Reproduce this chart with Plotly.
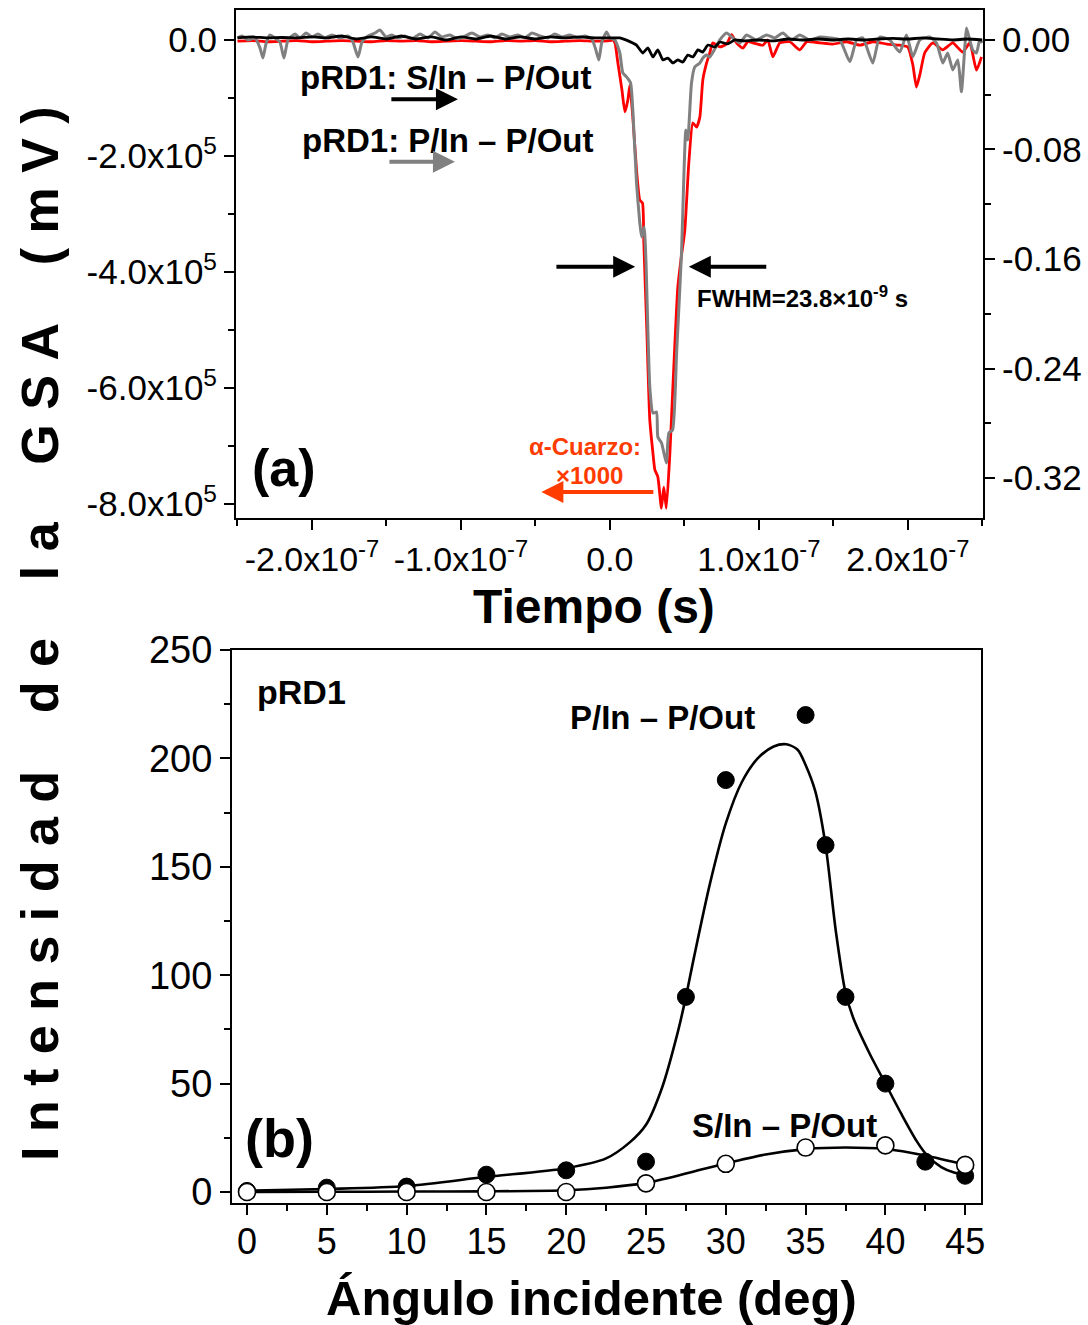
import plotly.graph_objects as go

# ---------------- panel (a): time traces ----------------
# alpha-quartz reference (x1000), left axis, mV
red_t_ns = [-250, -240, -230, -220, -210, -200, -190, -180, -170, -160, -150, -140, -130,
            -120, -110, -100, -90, -80, -70, -60, -50, -40, -30, -20, -10, 0,
            2.0, 3.4, 5.4, 8.1, 10.1, 12.1, 13.4, 15.4, 17.9, 20.1,
            21.9, 22.8, 24.8, 26.8, 28.9, 30.2, 32.2, 34.6, 36.2, 37.9,
            40.3, 42.3, 45.6, 47.7, 50.3, 53.0, 55.7, 58.2, 60.4, 62.4,
            64.9, 67.1, 69.1, 73.8, 78.3, 81.7, 85.0, 89.3, 92.6, 96.0,
            102.7, 106.0, 109.4, 114.1, 120.8, 127.5, 132.2, 140.9, 149.7, 159.1,
            167.8, 176.5, 185.9, 194.6, 200.0, 203.4, 205.8, 208.1, 211.4, 216.8,
            223.5, 230.2, 236.9, 241.6, 246.1, 249.5]
red_mV = [-0.02e5, -0.01e5, -0.03e5, -0.02e5, -0.01e5, -0.03e5, -0.02e5, -0.01e5, -0.02e5,
          -0.03e5, -0.01e5, -0.02e5, -0.01e5, -0.03e5, -0.02e5, -0.01e5, -0.02e5, -0.03e5,
          -0.01e5, -0.02e5, -0.01e5, -0.03e5, -0.02e5, -0.01e5, -0.02e5, -0.01e5,
          0.0, -0.05e5, -0.40e5, -0.86e5, -1.24e5, -1.03e5, -0.78e5, -1.33e5, -2.24e5, -2.76e5,
          -2.81e5, -3.50e5, -5.00e5, -6.55e5, -7.12e5, -7.41e5, -7.53e5, -8.07e5, -7.71e5, -8.07e5,
          -7.12e5, -5.98e5, -4.26e5, -3.79e5, -3.28e5, -2.12e5, -1.43e5, -1.50e5, -1.33e5, -0.69e5,
          -0.40e5, -0.22e5, -0.05e5, -0.12e5, -0.07e5, 0.09e5, -0.05e5, -0.14e5, -0.03e5, -0.05e5,
          -0.09e5, 0.0, -0.29e5, -0.05e5, -0.03e5, -0.17e5, -0.03e5, -0.05e5, -0.07e5, -0.03e5,
          -0.09e5, -0.03e5, -0.07e5, -0.09e5, -0.12e5, -0.43e5, -0.81e5, -0.60e5, -0.22e5, -0.05e5,
          -0.17e5, -0.05e5, -0.21e5, -0.05e5, -0.52e5, -0.29e5]

# pRD1 P/In - P/Out, right axis
gray_t_ns = [-250, -247.0, -243.0, -238.3, -234.9, -232.9, -230.9, -228.2, -224.8, -221.5,
             -218.8, -216.1, -211.4, -208.1, -204.0, -200.0, -196.0, -191.3, -186.6, -181.2,
             -175.8, -172.5, -169.1, -166.4, -162.4, -157.7, -154.4, -150.3, -146.3, -142.3,
             -137.6, -132.9, -127.5, -122.1, -117.4, -112.8, -107.4, -102.0, -97.3, -92.6,
             -87.2, -81.9, -77.2, -72.5, -67.1, -61.7, -57.0, -52.3, -47.0, -41.6,
             -36.9, -32.2, -26.8, -21.5, -16.8, -12.1, -9.4, -7.4, -5.4, -2.2,
             0, 3.4, 6.7, 8.7, 11.2, 13.9, 15.4, 17.9, 20.1, 21.3,
             23.0, 24.2, 26.8, 28.9, 31.3, 32.2, 34.7, 37.9, 39.6, 42.1,
             44.8, 48.1, 49.7, 51.0, 52.3, 54.8, 57.0, 60.4, 62.4, 64.9,
             67.1, 73.8, 78.3, 82.6, 87.2, 91.7, 98.4, 105.2, 110.7, 116.1,
             121.9, 127.5, 134.2, 140.9, 147.7, 154.4, 161.1, 165.6, 169.8, 176.5,
             181.2, 187.9, 194.6, 199.1, 203.4, 208.1, 214.8, 219.3, 223.5, 226.8,
             230.2, 233.6, 236.0, 238.3, 239.4, 241.6, 243.6, 246.1, 248.3, 250.0]
gray_val = [0.0015, 0.0029, 0.0, 0.0015, -0.0058, -0.0132, -0.0029, 0.0037, 0.0015, -0.0015,
            -0.0132, 0.0, 0.0044, 0.0015, 0.0051, 0.0022, 0.0044, 0.0015, 0.0037, 0.0015,
            0.0029, -0.0015, -0.0124, -0.0015, 0.0029, 0.0051, 0.0073, 0.0022, 0.0037, 0.0015,
            0.0029, 0.0007, 0.0044, 0.0015, 0.0058, 0.0022, 0.0037, 0.0007, 0.0029, 0.0051,
            0.0022, 0.0037, 0.0015, 0.0044, 0.0022, 0.0037, 0.0015, 0.0051, 0.0029, 0.0015,
            0.0044, 0.0022, 0.0037, 0.0015, 0.0029, 0.0007, -0.0073, -0.0146, -0.0015, 0.0058,
            0.0015, 0.0, -0.0095, -0.0241, -0.0270, -0.0314, -0.0511, -0.1045, -0.1337, -0.1439,
            -0.1366, -0.1607, -0.2535, -0.2725, -0.2718, -0.2900, -0.2944, -0.3090, -0.2871, -0.2849,
            -0.2287, -0.1556, -0.0986, -0.0658, -0.0731, -0.0314, -0.0197, -0.0168, -0.0132, -0.0110,
            -0.0124, 0.0, 0.0051, 0.0015, -0.0022, 0.0037, 0.0, 0.0037, 0.0015, 0.0051,
            0.0, 0.0037, 0.0, 0.0022, 0.0015, 0.0, -0.0159, 0.0, 0.0015, -0.0168,
            0.0022, 0.0, -0.0088, 0.0037, -0.0122, 0.0, 0.0022, -0.0022, -0.0168, -0.0095,
            -0.0219, -0.0146, -0.0378, -0.0051, 0.0088, 0.0, -0.0073, -0.0095, 0.0, -0.0022]

# pRD1 S/In - P/Out, right axis
black_t_ns = [-250, -240, -230, -220, -210, -200, -190, -180, -170, -160, -150, -140, -130,
              -120, -110, -100, -90, -80, -70, -60, -50, -40, -30, -20, -10, 0,
              3.4, 6.7, 13.4, 17.9, 22.1, 25.5, 28.9, 32.2, 35.6, 38.9,
              42.3, 45.6, 49.0, 52.3, 55.7, 59.1, 62.4, 65.8, 70.5, 73.8,
              79.2, 83.9, 90, 100, 110, 120, 130, 140, 150, 160, 170, 180, 190,
              200, 210, 220, 230, 240, 250]
black_val = [0.0015, 0.0022, 0.0015, 0.0018, 0.0015, 0.0022, 0.0015, 0.0029, 0.0007, 0.0022,
             0.0007, 0.0029, 0.0007, 0.0022, 0.0, 0.0022, 0.0007, 0.0029, 0.0007, 0.0022,
             0.0007, 0.0022, 0.0015, 0.0022, 0.0015, 0.0015,
             0.0015, 0.0015, -0.0012, -0.0037, -0.0095, -0.0058, -0.0124, -0.0073, -0.0146, -0.0132,
             -0.0168, -0.0146, -0.0161, -0.0110, -0.0124, -0.0073, -0.0088, -0.0037, -0.0051, -0.0015,
             -0.0029, 0.0, -0.0007, 0.0, -0.0007, 0.0007, 0.0, 0.0007, 0.0, 0.0007, 0.0, 0.0007, 0.0011,
             0.0007, 0.0015, 0.0007, 0.0, 0.0007, 0.0]

# tick labels panel (a)
t_tickvals = [-2e-7, -1e-7, 0, 1e-7, 2e-7]
t_ticktext = ["-2.0x10<sup>-7</sup>", "-1.0x10<sup>-7</sup>", "0.0",
              "1.0x10<sup>-7</sup>", "2.0x10<sup>-7</sup>"]
left_tickvals = [0, -2e5, -4e5, -6e5, -8e5]
left_ticktext = ["0.0", "-2.0x10<sup>5</sup>", "-4.0x10<sup>5</sup>",
                 "-6.0x10<sup>5</sup>", "-8.0x10<sup>5</sup>"]
right_tickvals = [0, -0.08, -0.16, -0.24, -0.32]
right_ticktext = ["0.00", "-0.08", "-0.16", "-0.24", "-0.32"]

# ---------------- panel (b): angle dependence ----------------
angle_p = [0, 5, 10, 15, 20, 25, 27.5, 30, 35, 36.25, 37.5, 40, 42.5, 45]
int_p = [0.5, 2, 2.5, 8, 10, 14, 90, 190, 220, 160, 90, 50, 14, 7.5]
angle_s = [0, 5, 10, 15, 20, 25, 30, 35, 40, 45]
int_s = [0, 0, 0, 0, 0, 4, 13, 20.5, 21.5, 12.5]

fit_p_angle = [0, 5, 10, 15, 20, 22.5, 24, 25, 26, 27, 27.5, 28, 29, 30, 31, 32, 33,
               33.8, 34.5, 35, 35.6, 36.25, 36.9, 37.5, 38, 39, 40, 41, 42, 42.6, 43.5, 44.3, 45]
fit_p_int = [0.6, 1.4, 2.8, 7.0, 11, 15.5, 23, 31, 48, 74, 90, 108, 142, 170, 189, 200, 205.5,
             206.5, 204, 197, 185, 160, 120, 92, 80, 64, 50, 36, 23, 17, 11.5, 9, 8]
fit_s_angle = [0, 5, 10, 15, 20, 22.5, 25, 27.5, 30, 32.5, 35, 37.5, 40, 42.5, 45]
fit_s_int = [0, 0.1, 0.2, 0.3, 0.8, 2.0, 4.2, 8.5, 13.2, 17.3, 19.8, 20.5, 19.8, 16.8, 12.5]

# ---------------- figure ----------------
W, H = 1088, 1325
FONT = "Liberation Sans, Arial, sans-serif"
ORANGE = "#ff3c00"

fig = go.Figure()

red_t = [t * 1e-9 for t in red_t_ns]
gray_t = [t * 1e-9 for t in gray_t_ns]
black_t = [t * 1e-9 for t in black_t_ns]

fig.add_trace(go.Scatter(x=red_t, y=red_mV, mode="lines",
                         line=dict(color="#ff0000", width=2.8, shape="spline", smoothing=0.5),
                         xaxis="x", yaxis="y", showlegend=False))
fig.add_trace(go.Scatter(x=gray_t, y=gray_val, mode="lines",
                         line=dict(color="#808080", width=3, shape="spline", smoothing=0.5),
                         xaxis="x", yaxis="y2", showlegend=False))
fig.add_trace(go.Scatter(x=black_t, y=black_val, mode="lines",
                         line=dict(color="#000000", width=2.8, shape="spline", smoothing=0.5),
                         xaxis="x", yaxis="y2", showlegend=False))

fig.add_trace(go.Scatter(x=fit_p_angle, y=fit_p_int, mode="lines",
                         line=dict(color="black", width=2.6, shape="spline", smoothing=0.8),
                         xaxis="x3", yaxis="y3", showlegend=False))
fig.add_trace(go.Scatter(x=fit_s_angle, y=fit_s_int, mode="lines",
                         line=dict(color="black", width=2.6, shape="spline", smoothing=0.8),
                         xaxis="x3", yaxis="y3", showlegend=False))
fig.add_trace(go.Scatter(x=angle_p, y=int_p, mode="markers",
                         marker=dict(symbol="circle", size=17, color="black",
                                     line=dict(color="black", width=1)),
                         xaxis="x3", yaxis="y3", showlegend=False))
fig.add_trace(go.Scatter(x=angle_s, y=int_s, mode="markers",
                         marker=dict(symbol="circle", size=17, color="white",
                                     line=dict(color="black", width=1.6)),
                         xaxis="x3", yaxis="y3", showlegend=False))

tickfont = dict(family=FONT, size=35, color="black")
axis_common = dict(showline=True, linecolor="black", linewidth=2, showgrid=False, zeroline=False,
                   ticks="outside", tickcolor="black", tickwidth=2, ticklen=10, tickfont=tickfont,
                   automargin=False)

fig.update_layout(
    width=W, height=H, margin=dict(l=0, r=0, t=0, b=0, autoexpand=False),
    paper_bgcolor="white", plot_bgcolor="white",
    font=dict(family=FONT, color="black"),
    xaxis=dict(axis_common, domain=[236 / W, 983 / W], anchor="y", range=[-2.51e-7, 2.505e-7],
               tickmode="array", tickvals=t_tickvals, ticktext=t_ticktext, mirror=True,
               tickfont=dict(family=FONT, size=34, color="black"),
               minor=dict(tick0=0, dtick=0.5e-7, ticklen=6, tickcolor="black", tickwidth=2,
                          ticks="outside", showgrid=False)),
    yaxis=dict(axis_common, domain=[1 - 518 / H, 1 - 10 / H], anchor="x", range=[-8.24e5, 0.517e5],
               tickmode="array", tickvals=left_tickvals, ticktext=left_ticktext,
               minor=dict(tick0=0, dtick=1e5, ticklen=6, tickcolor="black", tickwidth=2,
                          ticks="outside", showgrid=False)),
    yaxis2=dict(axis_common, overlaying="y", side="right", anchor="x", range=[-0.3492, 0.0219],
                tickmode="array", tickvals=right_tickvals, ticktext=right_ticktext,
                minor=dict(tick0=0, dtick=0.04, ticklen=6, tickcolor="black", tickwidth=2,
                           ticks="outside", showgrid=False)),
    xaxis3=dict(axis_common, domain=[232 / W, 981 / W], anchor="y3", range=[-0.94, 45.99],
                tickmode="linear", tick0=0, dtick=5, mirror=True,
                tickfont=dict(family=FONT, size=36, color="black"), ticklabelstandoff=-4,
                minor=dict(tick0=0, dtick=2.5, ticklen=6, tickcolor="black", tickwidth=2,
                           ticks="outside", showgrid=False)),
    yaxis3=dict(axis_common, domain=[1 - 1203 / H, 1 - 650 / H], anchor="x3", range=[-5.07, 250],
                tickmode="linear", tick0=0, dtick=50, mirror=True,
                tickfont=dict(family=FONT, size=38, color="black"),
                minor=dict(tick0=0, dtick=25, ticklen=6, tickcolor="black", tickwidth=2,
                           ticks="outside", showgrid=False)),
)

def txt(x, y, text, size, xref="x", yref="y", color="black", xanchor="left", yanchor="middle", angle=0):
    fig.add_annotation(x=x, y=y, xref=xref, yref=yref, text=text, showarrow=False,
                       font=dict(family=FONT, size=size, color=color),
                       xanchor=xanchor, yanchor=yanchor, textangle=angle)

def arrow(x0, y0, x1, y1, color, xref="x", yref="y"):
    fig.add_annotation(x=x1, y=y1, ax=x0, ay=y0, xref=xref, yref=yref, axref=xref, ayref=yref,
                       text="", showarrow=True, arrowhead=2, arrowsize=1.1, arrowwidth=4,
                       arrowcolor=color)

# panel (a) labels
txt(-209.4e-9, -0.64e5, "<b>pRD1: S/In \u2013 P/Out</b>", 33)
txt(-208e-9, -1.74e5, "<b>pRD1: P/In \u2013 P/Out</b>", 33)
arrow(-147.7e-9, -1.02e5, -102e-9, -1.02e5, "black")
arrow(-149e-9, -2.10e5, -104e-9, -2.10e5, "#808080")
arrow(-36.9e-9, -3.91e5, 17e-9, -3.91e5, "black")
arrow(106e-9, -3.91e5, 53e-9, -3.91e5, "black")
txt(57e-9, -4.43e5, "<b>FWHM=23.8\u00d710<sup>-9</sup> s</b>", 24)
txt(-16.8e-9, -7.0e5, "<b>\u03b1-Cuarzo:</b>", 24, color=ORANGE, xanchor="center")
txt(-14e-9, -7.5e5, "<b>\u00d71000</b>", 24, color=ORANGE, xanchor="center")
arrow(30.2e-9, -7.79e5, -46e-9, -7.79e5, ORANGE)
txt(-241.6e-9, -7.38e5, "<b>(a)</b>", 52)

# panel (b) labels
txt(0.5, 230.6, "<b>pRD1</b>", 34, xref="x3", yref="y3")
txt(20.1, 219, "<b>P/In \u2013 P/Out</b>", 33, xref="x3", yref="y3")
txt(27.76, 30.9, "<b>S/In \u2013 P/Out</b>", 33, xref="x3", yref="y3")
txt(-0.25, 24.9, "<b>(b)</b>", 54, xref="x3", yref="y3")

# axis titles
txt(594 / W, 1 - 606 / H, "<b>Tiempo (s)</b>", 48, xref="paper", yref="paper", xanchor="center")
txt(591 / W, 1 - 1298 / H, "<b>\u00c1ngulo incidente (deg)</b>", 49, xref="paper", yref="paper",
    xanchor="center")
ytitle = "\u00a0".join(list("Intensidad")) + "\u00a0\u00a0\u00a0\u00a0" + "\u00a0".join(list("de")) \
    + "\u00a0\u00a0\u00a0\u00a0" + "\u00a0".join(list("la")) + "\u00a0\u00a0\u00a0\u00a0" \
    + "\u00a0".join(list("GSA")) + "\u00a0\u00a0\u00a0\u00a0" + "\u00a0".join(list("(mV)"))
txt(40 / W, 1 - 634 / H, "<b>" + ytitle + "</b>", 52, xref="paper", yref="paper",
    xanchor="center", angle=-90)

fig.write_html("out.html", config={"displayModeBar": False},
               post_script="document.body.style.margin='0px';")
